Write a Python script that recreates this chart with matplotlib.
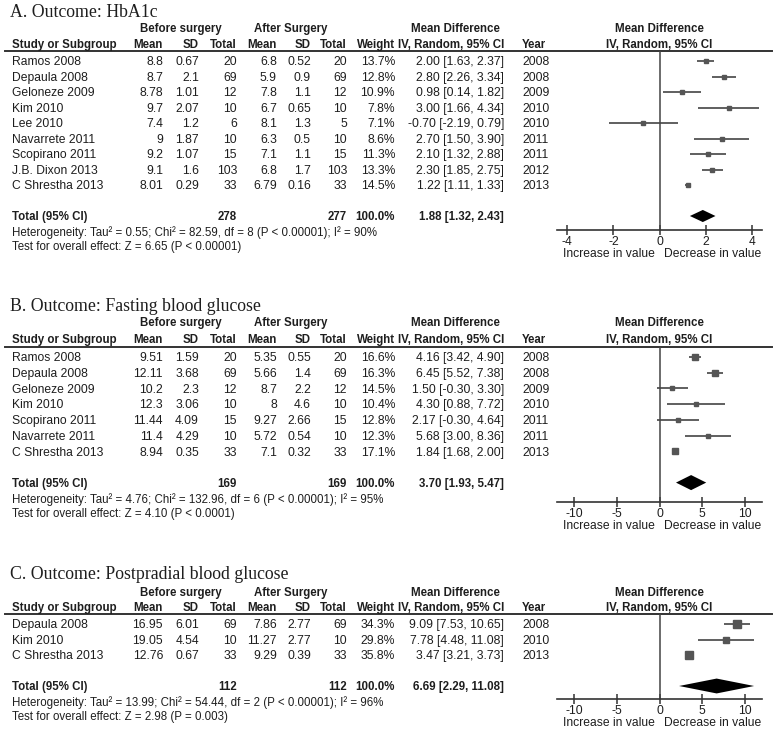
import matplotlib
matplotlib.use('Agg')
import matplotlib.pyplot as plt
from matplotlib.patches import Polygon

plt.rcParams['font.family'] = ['Liberation Sans', 'DejaVu Sans']

W, H = 778, 733
FS = 8.7      # regular table text
FSB = 8.3     # bold headers
FSN = 8.3     # heterogeneity / overall effect notes
TXT = '#1e1e1e'
GREY = '#555555'

# ---------------- A. HbA1c ----------------
a_study = ['Ramos 2008', 'Depaula 2008', 'Geloneze 2009', 'Kim 2010', 'Lee 2010',
           'Navarrete 2011', 'Scopirano 2011', 'J.B. Dixon 2013', 'C Shrestha 2013']
a_m1 = [8.8, 8.7, 8.78, 9.7, 7.4, 9, 9.2, 9.1, 8.01]
a_sd1 = [0.67, 2.1, 1.01, 2.07, 1.2, 1.87, 1.07, 1.6, 0.29]
a_n1 = [20, 69, 12, 10, 6, 10, 15, 103, 33]
a_m2 = [6.8, 5.9, 7.8, 6.7, 8.1, 6.3, 7.1, 6.8, 6.79]
a_sd2 = [0.52, 0.9, 1.1, 0.65, 1.3, 0.5, 1.1, 1.7, 0.16]
a_n2 = [20, 69, 12, 10, 5, 10, 15, 103, 33]
a_w = [13.7, 12.8, 10.9, 7.8, 7.1, 8.6, 11.3, 13.3, 14.5]
a_md = [2.00, 2.80, 0.98, 3.00, -0.70, 2.70, 2.10, 2.30, 1.22]
a_lo = [1.63, 2.26, 0.14, 1.66, -2.19, 1.50, 1.32, 1.85, 1.11]
a_hi = [2.37, 3.34, 1.82, 4.34, 0.79, 3.90, 2.88, 2.75, 1.33]
a_year = [2008, 2008, 2009, 2010, 2010, 2011, 2011, 2012, 2013]
a_total = [278, 277, 1.88, 1.32, 2.43]
a_het = 'Heterogeneity: Tau\u00b2 = 0.55; Chi\u00b2 = 82.59, df = 8 (P < 0.00001); I\u00b2 = 90%'
a_test = 'Test for overall effect: Z = 6.65 (P < 0.00001)'
a_ticks = [-4, -2, 0, 2, 4]

# ---------------- B. Fasting blood glucose ----------------
b_study = ['Ramos 2008', 'Depaula 2008', 'Geloneze 2009', 'Kim 2010',
           'Scopirano 2011', 'Navarrete 2011', 'C Shrestha 2013']
b_m1 = [9.51, 12.11, 10.2, 12.3, 11.44, 11.4, 8.94]
b_sd1 = [1.59, 3.68, 2.3, 3.06, 4.09, 4.29, 0.35]
b_n1 = [20, 69, 12, 10, 15, 10, 33]
b_m2 = [5.35, 5.66, 8.7, 8, 9.27, 5.72, 7.1]
b_sd2 = [0.55, 1.4, 2.2, 4.6, 2.66, 0.54, 0.32]
b_n2 = [20, 69, 12, 10, 15, 10, 33]
b_w = [16.6, 16.3, 14.5, 10.4, 12.8, 12.3, 17.1]
b_md = [4.16, 6.45, 1.50, 4.30, 2.17, 5.68, 1.84]
b_lo = [3.42, 5.52, -0.30, 0.88, -0.30, 3.00, 1.68]
b_hi = [4.90, 7.38, 3.30, 7.72, 4.64, 8.36, 2.00]
b_year = [2008, 2008, 2009, 2010, 2011, 2011, 2013]
b_total = [169, 169, 3.70, 1.93, 5.47]
b_het = 'Heterogeneity: Tau\u00b2 = 4.76; Chi\u00b2 = 132.96, df = 6 (P < 0.00001); I\u00b2 = 95%'
b_test = 'Test for overall effect: Z = 4.10 (P < 0.0001)'
b_ticks = [-10, -5, 0, 5, 10]

# ---------------- C. Postpradial blood glucose ----------------
c_study = ['Depaula 2008', 'Kim 2010', 'C Shrestha 2013']
c_m1 = [16.95, 19.05, 12.76]
c_sd1 = [6.01, 4.54, 0.67]
c_n1 = [69, 10, 33]
c_m2 = [7.86, 11.27, 9.29]
c_sd2 = [2.77, 2.77, 0.39]
c_n2 = [69, 10, 33]
c_w = [34.3, 29.8, 35.8]
c_md = [9.09, 7.78, 3.47]
c_lo = [7.53, 4.48, 3.21]
c_hi = [10.65, 11.08, 3.73]
c_year = [2008, 2010, 2013]
c_total = [112, 112, 6.69, 2.29, 11.08]
c_het = 'Heterogeneity: Tau\u00b2 = 13.99; Chi\u00b2 = 54.44, df = 2 (P < 0.00001); I\u00b2 = 96%'
c_test = 'Test for overall effect: Z = 2.98 (P = 0.003)'
c_ticks = [-10, -5, 0, 5, 10]

fig = plt.figure(figsize=(W / 100, H / 100), dpi=100)
bg = fig.add_axes([0, 0, 1, 1])
bg.set_xlim(0, W)
bg.set_ylim(H, 0)
bg.axis('off')


def txt(x, y, s, ha='left', bold=False, size=None, serif=False):
    # y is the visual middle of capital letters (pixels from top)
    if size is None:
        size = FSB if bold else FS
    cap = size * 100 / 72 * (0.662 if serif else 0.716)
    fam = ['Liberation Serif', 'DejaVu Serif'] if serif else ['Liberation Sans', 'DejaVu Sans']
    bg.text(x, y + cap / 2, s, ha=ha, va='baseline', fontsize=size, color=TXT,
            fontweight='bold' if bold else 'normal', family=fam)


# column right edges (pixels)
COLS = [163, 199, 237, 277, 311, 347, 395, 504]
YEAR_X = 522
FX0, FX1 = 557, 762


def panel(title, lay, study, m1, sd1, n1, m2, sd2, n2, w, md, lo, hi, year,
          total, het, test, xlim, ticks, dh):
    title_y, h1_y, h2_y, line_y, row0, step, axis_y = lay
    txt(10, title_y, title, size=12.8, serif=True)
    txt(181, h1_y, 'Before surgery', ha='center', bold=True)
    txt(291, h1_y, 'After Surgery', ha='center', bold=True)
    txt(455, h1_y, 'Mean Difference', ha='center', bold=True)
    txt((FX0 + FX1) / 2, h1_y, 'Mean Difference', ha='center', bold=True)
    txt(12, h2_y, 'Study or Subgroup', bold=True)
    for x, s in zip(COLS, ['Mean', 'SD', 'Total', 'Mean', 'SD', 'Total', 'Weight',
                           'IV, Random, 95% CI']):
        txt(x, h2_y, s, ha='right', bold=True)
    txt(YEAR_X, h2_y, 'Year', bold=True)
    txt((FX0 + FX1) / 2, h2_y, 'IV, Random, 95% CI', ha='center', bold=True)
    bg.plot([5, 772], [line_y, line_y], color='#333333', lw=1.4)

    for i in range(len(study)):
        y = row0 + i * step
        txt(12, y, study[i])
        vals = [f'{m1[i]:g}', f'{sd1[i]:g}', f'{n1[i]}', f'{m2[i]:g}', f'{sd2[i]:g}',
                f'{n2[i]}', f'{w[i]:.1f}%',
                f'{md[i]:.2f} [{lo[i]:.2f}, {hi[i]:.2f}]']
        for x, s in zip(COLS, vals):
            txt(x, y, s, ha='right')
        txt(YEAR_X, y, str(year[i]))

    ti = len(study) + 1
    ty = row0 + ti * step
    txt(12, ty, 'Total (95% CI)', bold=True)
    txt(COLS[2], ty, str(total[0]), ha='right', bold=True)
    txt(COLS[5], ty, str(total[1]), ha='right', bold=True)
    txt(COLS[6], ty, '100.0%', ha='right', bold=True)
    txt(COLS[7], ty, f'{total[2]:.2f} [{total[3]:.2f}, {total[4]:.2f}]', ha='right', bold=True)
    txt(12, ty + 16, het, size=FSN)
    txt(12, ty + 30, test, size=FSN)

    ax = fig.add_axes([FX0 / W, 1 - axis_y / H, (FX1 - FX0) / W, (axis_y - line_y) / H])
    ax.patch.set_visible(False)
    ax.set_xlim(*xlim)
    ax.set_ylim((axis_y - row0) / step, (line_y - row0) / step)
    for s in ['top', 'right', 'left']:
        ax.spines[s].set_visible(False)
    ax.spines['bottom'].set_color('#333333')
    ax.spines['bottom'].set_linewidth(1.2)
    ax.set_yticks([])
    ax.set_xticks(ticks)
    ax.set_xticklabels([str(t) for t in ticks])
    ax.tick_params(axis='x', direction='inout', length=7, width=1.1, color='#333333',
                   pad=0.5, labelsize=FS, labelcolor=TXT)
    ax.axvline(0, color='#444444', lw=1.1)

    rows = list(range(len(study)))
    ax.hlines(rows, lo, hi, color='#444444', lw=1.2)
    for i in rows:
        side = 1.25 * w[i] ** 0.5 * 72 / 100
        ax.plot(md[i], i, marker='s', ms=side, color=GREY, mec=GREY, lw=0)
    m, l, h = total[2], total[3], total[4]
    ax.add_patch(Polygon([(l, ti), (m, ti - dh), (h, ti), (m, ti + dh)],
                         closed=True, color='black', lw=0))

    ax.annotate('Increase in value', xy=(0, 0), xycoords=('data', 'axes fraction'),
                xytext=(-3.5, -17), textcoords='offset points', ha='right', va='center',
                fontsize=FS, color=TXT)
    ax.annotate('Decrease in value', xy=(0, 0), xycoords=('data', 'axes fraction'),
                xytext=(3.5, -17), textcoords='offset points', ha='left', va='center',
                fontsize=FS, color=TXT)


panel('A. Outcome: HbA1c', (11, 28, 44, 51, 61, 15.5, 230),
      a_study, a_m1, a_sd1, a_n1, a_m2, a_sd2, a_n2, a_w, a_md, a_lo, a_hi, a_year,
      a_total, a_het, a_test, (-4.45, 4.45), a_ticks, 0.39)
panel('B. Outcome: Fasting blood glucose', (305, 322, 339, 347, 357, 15.7, 502),
      b_study, b_m1, b_sd1, b_n1, b_m2, b_sd2, b_n2, b_w, b_md, b_lo, b_hi, b_year,
      b_total, b_het, b_test, (-12, 12), b_ticks, 0.48)
panel('C. Outcome: Postpradial blood glucose', (573, 592, 607, 614, 624, 15.5, 699),
      c_study, c_m1, c_sd1, c_n1, c_m2, c_sd2, c_n2, c_w, c_md, c_lo, c_hi, c_year,
      c_total, c_het, c_test, (-12, 12), c_ticks, 0.48)

fig.savefig('out.png', dpi=100)
